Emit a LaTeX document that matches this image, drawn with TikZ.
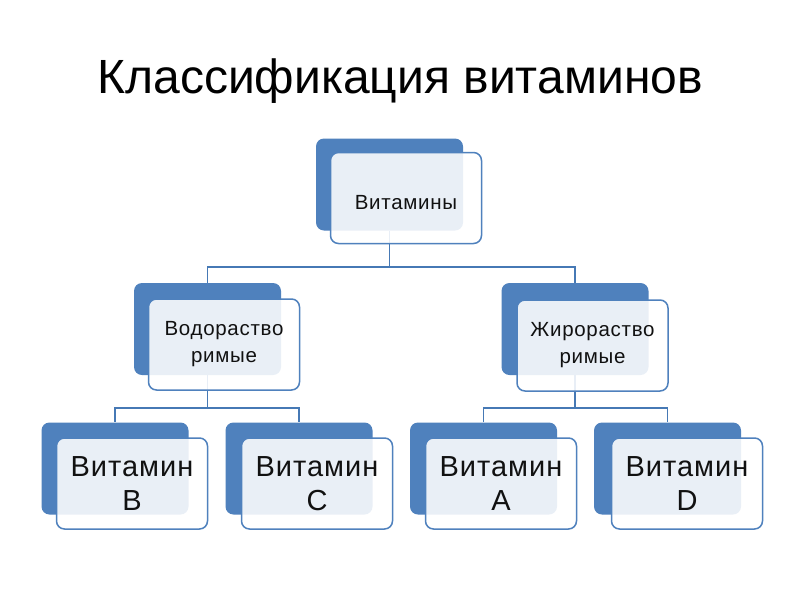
\documentclass[tikz,border=0pt]{standalone}
\usepackage{fontspec}
\setmainfont{Liberation Sans}
\newfontfamily\boxfont[LetterSpace=3.5]{Liberation Sans}
\definecolor{blueA}{HTML}{4F81BD}
\definecolor{blueB}{HTML}{4F81BD}
\definecolor{blueC}{HTML}{4679B5}
\definecolor{txt}{HTML}{111111}
\tikzset{
  backbox/.style={fill=blueA, draw=none, rounded corners=8pt, minimum width=147pt, minimum height=92pt, inner sep=0pt},
  frontbox/.style={fill=white, fill opacity=0.88, text opacity=1, draw=blueB, line width=1.5pt, rounded corners=8pt, minimum width=151pt, minimum height=91pt, align=center, inner sep=0pt, text=txt},
  conn/.style={draw=blueC, line width=1.6pt},
  smallfont/.style={font=\boxfont\fontsize{20.5}{27}\selectfont},
  bigfont/.style={font=\boxfont\fontsize{29}{34}\selectfont},
}
\begin{document}
\begin{tikzpicture}[x=1pt,y=-1pt]
\useasboundingbox (0,0) rectangle (800,600);
\fill[white] (0,0) rectangle (800,600);
\node[font=\fontsize{48}{58}\selectfont, anchor=base] (title) at (400,93) {Классификация витаминов};
% back boxes
\node[backbox] (b1) at (389.5,184.5) {};
\node[backbox] (b2) at (207.5,329) {};
\node[backbox] (b3) at (575,329) {};
\node[backbox] (b4) at (115,468.5) {};
\node[backbox] (b5) at (299,468.5) {};
\node[backbox] (b6) at (483.5,468.5) {};
\node[backbox] (b7) at (667.5,468.5) {};
% connectors
\coordinate (j1) at (0,267);
\coordinate (j2) at (0,408);
\draw[conn] (b1.south) -- (b1.south |- j1) -| (b2.north);
\draw[conn] (b1.south |- j1) -| (b3.north);
\draw[conn] (b2.south) -- (b2.south |- j2) -| (b4.north);
\draw[conn] (b2.south |- j2) -| (b5.north);
\draw[conn] (b3.south) -- (b3.south |- j2) -| (b6.north);
\draw[conn] (b3.south |- j2) -| (b7.north);
% front boxes
\node[frontbox, smallfont, text height=22pt, text depth=0pt] (f1) at (406,198) {Витамины};
\node[frontbox, smallfont] (f2) at (224,344.5) {Водораство\\римые};
\node[frontbox, smallfont] (f3) at (592.5,345.5) {Жирораство\\римые};
\node[frontbox, bigfont] (f4) at (132,483.5) {Витамин\\B};
\node[frontbox, bigfont] (f5) at (317,483.5) {Витамин\\C};
\node[frontbox, bigfont] (f6) at (501,483.5) {Витамин\\A};
\node[frontbox, bigfont] (f7) at (687,483.5) {Витамин\\D};
\end{tikzpicture}
\end{document}
